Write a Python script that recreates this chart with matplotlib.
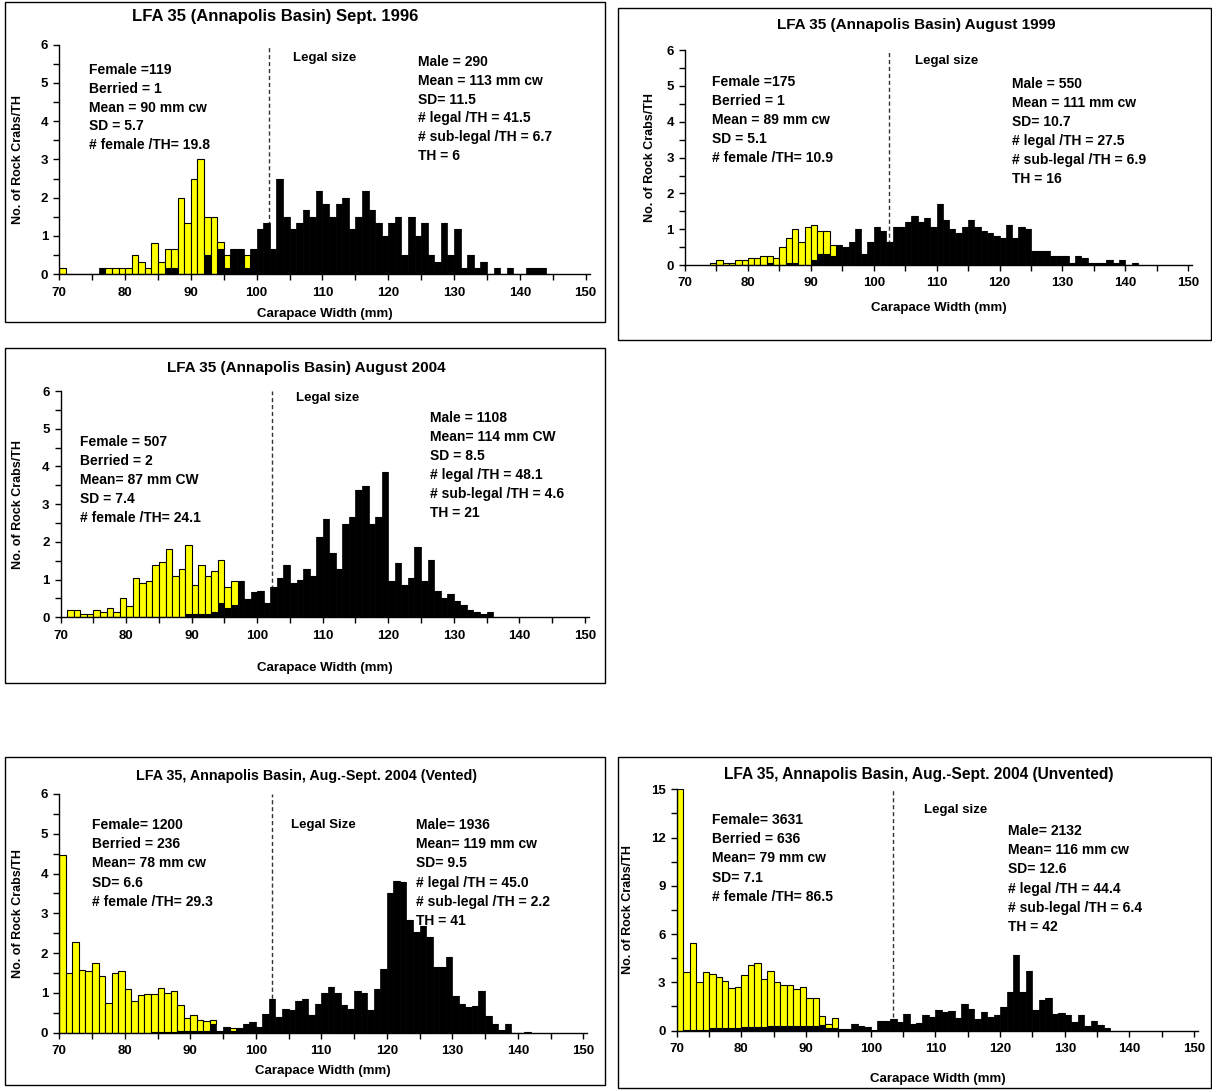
import numpy as np
import matplotlib
matplotlib.use('Agg')
import matplotlib.pyplot as plt
from matplotlib.patches import Rectangle

plt.rcParams['font.family'] = ['Liberation Sans', 'DejaVu Sans']
plt.rcParams['font.weight'] = 'bold'

# Carapace width classes (mm) and crabs per trap haul, female on top of male
cw_1996 = np.arange(70, 144)
female_1996 = [0.17, 0, 0, 0, 0, 0, 0, 0.17, 0.17, 0.17,
               0.17, 0.5, 0.33, 0.17, 0.83, 0.33, 0.5, 0.5, 2.0, 1.33,
               2.5, 3.0, 1.0, 1.5, 0.17, 0.33, 0, 0, 0.33, 0,
               0, 0, 0, 0, 0, 0, 0, 0, 0, 0,
               0, 0, 0, 0, 0, 0, 0, 0, 0, 0,
               0, 0, 0, 0, 0, 0, 0, 0, 0, 0,
               0, 0, 0, 0, 0, 0, 0, 0, 0, 0,
               0, 0, 0, 0]
male_1996 = [0, 0, 0, 0, 0, 0, 0.17, 0, 0, 0,
             0, 0, 0, 0, 0, 0, 0.17, 0.17, 0, 0,
             0, 0, 0.5, 0, 0.67, 0.17, 0.67, 0.67, 0.17, 0.67,
             1.17, 1.33, 0.67, 2.5, 1.5, 1.17, 1.33, 1.67, 1.5, 2.17,
             1.83, 1.5, 1.83, 2.0, 1.17, 1.5, 2.17, 1.67, 1.33, 1.0,
             1.33, 1.5, 0.5, 1.5, 1.0, 1.33, 0.5, 0.33, 1.33, 0.5,
             1.17, 0.17, 0.5, 0.17, 0.33, 0, 0.17, 0, 0.17, 0,
             0, 0.17, 0.17, 0.17]

cw_1999 = np.arange(74, 142)
female_1999 = [0.06, 0.13, 0.06, 0.06, 0.13, 0.13, 0.19, 0.19, 0.25, 0.19,
               0.19, 0.5, 0.69, 0.94, 0.63, 1.06, 1.0, 0.63, 0.63, 0.31,
               0, 0, 0, 0, 0, 0, 0, 0, 0, 0,
               0, 0, 0, 0, 0, 0, 0, 0, 0, 0,
               0, 0, 0, 0, 0, 0, 0, 0, 0, 0,
               0, 0, 0, 0, 0, 0, 0, 0, 0, 0,
               0, 0, 0, 0, 0, 0, 0, 0]
male_1999 = [0, 0, 0, 0, 0, 0, 0, 0, 0, 0.06,
             0, 0, 0.06, 0.06, 0, 0, 0.13, 0.31, 0.31, 0.25,
             0.56, 0.5, 0.63, 1.0, 0.31, 0.63, 1.06, 0.94, 0.63, 1.06,
             1.06, 1.19, 1.38, 1.19, 1.31, 1.06, 1.69, 1.25, 1.0, 0.88,
             1.06, 1.25, 1.06, 0.94, 0.88, 0.81, 0.75, 1.13, 0.75, 1.06,
             1.0, 0.38, 0.38, 0.38, 0.25, 0.25, 0.25, 0.06, 0.25, 0.19,
             0.06, 0.06, 0.06, 0.13, 0.06, 0.13, 0, 0.06]

cw_2004 = np.arange(71, 136)
female_2004 = [0.19, 0.19, 0.1, 0.1, 0.19, 0.14, 0.24, 0.14, 0.52,
               0.29, 1.05, 0.9, 0.95, 1.38, 1.48, 1.81, 1.1, 1.29, 1.81,
               0.76, 1.29, 1.0, 1.1, 1.14, 0.57, 0.62, 0, 0, 0,
               0, 0, 0, 0, 0, 0, 0, 0, 0, 0,
               0, 0, 0, 0, 0, 0, 0, 0, 0, 0,
               0, 0, 0, 0, 0, 0, 0, 0, 0, 0,
               0, 0, 0, 0, 0, 0]
male_2004 = [0, 0, 0, 0, 0, 0, 0, 0, 0,
             0, 0, 0, 0, 0, 0, 0, 0, 0, 0.1,
             0.1, 0.1, 0.1, 0.14, 0.38, 0.24, 0.33, 0.95, 0.48, 0.67,
             0.71, 0.38, 0.81, 1.05, 1.38, 0.9, 1.0, 1.29, 1.1, 2.14,
             2.62, 1.71, 1.29, 2.48, 2.67, 3.38, 3.48, 2.48, 2.67, 3.86,
             0.95, 1.43, 0.86, 1.05, 1.86, 0.95, 1.52, 0.71, 0.52, 0.62,
             0.43, 0.33, 0.19, 0.14, 0.1, 0.14]

cw_vented = np.arange(70, 142)
female_vented = [4.46, 1.49, 2.27, 1.58, 1.54, 1.76, 1.43, 0.74, 1.49, 1.54,
                 1.1, 0.8, 0.95, 0.98, 0.95, 1.09, 0.97, 1.01, 0.65, 0.31,
                 0.39, 0.26, 0.25, 0.08, 0, 0, 0.07, 0, 0, 0,
                 0, 0, 0, 0, 0, 0, 0, 0, 0, 0,
                 0, 0, 0, 0, 0, 0, 0, 0, 0, 0,
                 0, 0, 0, 0, 0, 0, 0, 0, 0, 0,
                 0, 0, 0, 0, 0, 0, 0, 0, 0, 0,
                 0, 0]
male_vented = [0, 0, 0, 0, 0, 0, 0, 0, 0, 0,
               0, 0, 0, 0, 0.03, 0.03, 0.03, 0.03, 0.05, 0.05,
               0.05, 0.05, 0.05, 0.23, 0.05, 0.15, 0.05, 0.12, 0.21, 0.27,
               0.14, 0.47, 0.84, 0.39, 0.6, 0.57, 0.8, 0.84, 0.44, 0.72,
               0.99, 1.14, 0.99, 0.69, 0.6, 1.05, 0.99, 0.57, 1.11, 1.61,
               3.5, 3.81, 3.78, 2.83, 2.54, 2.67, 2.41, 1.66, 1.66, 1.89,
               0.93, 0.71, 0.64, 0.67, 1.05, 0.42, 0.21, 0.08, 0.21, 0,
               0, 0.03]

cw_unvented = np.arange(70, 137)
female_unvented = [15.0, 3.56, 5.39, 2.94, 3.56, 3.38, 3.16, 2.93, 2.47, 2.56,
                   3.25, 3.85, 3.99, 3.02, 3.43, 2.75, 2.6, 2.6, 2.26, 2.41,
                   1.75, 1.75, 0.56, 0.27, 0.63, 0, 0, 0, 0, 0,
                   0, 0, 0, 0, 0, 0, 0, 0, 0, 0,
                   0, 0, 0, 0, 0, 0, 0, 0, 0, 0,
                   0, 0, 0, 0, 0, 0, 0, 0, 0, 0,
                   0, 0, 0, 0, 0, 0, 0]
male_unvented = [0, 0.06, 0.06, 0.06, 0.06, 0.15, 0.15, 0.15, 0.15, 0.15,
                 0.2, 0.2, 0.2, 0.2, 0.25, 0.25, 0.25, 0.25, 0.3, 0.3,
                 0.3, 0.3, 0.37, 0.15, 0.15, 0.12, 0.08, 0.4, 0.3, 0.2,
                 0.06, 0.56, 0.62, 0.7, 0.54, 1.0, 0.43, 0.45, 0.95, 0.87,
                 1.28, 1.18, 1.24, 0.79, 1.65, 1.32, 0.7, 1.12, 0.83, 0.99,
                 1.49, 2.4, 4.69, 2.38, 3.72, 1.28, 1.9, 2.0, 1.03, 1.07,
                 0.95, 0.54, 0.95, 0.25, 0.56, 0.35, 0.15]

legal_size = [101.9, 102.5, 102.3, 102.5, 103.5]

titles = ["LFA 35 (Annapolis Basin) Sept. 1996",
          "LFA 35 (Annapolis Basin) August 1999",
          "LFA 35 (Annapolis Basin) August 2004",
          "LFA 35, Annapolis Basin, Aug.-Sept. 2004 (Vented)",
          "LFA 35, Annapolis Basin, Aug.-Sept. 2004 (Unvented)"]
legal_labels = ["Legal size", "Legal size", "Legal size", "Legal Size", "Legal size"]

female_notes = [
    ["Female =119", "Berried = 1", "Mean = 90 mm cw", "SD = 5.7", "# female /TH= 19.8"],
    ["Female =175", "Berried = 1", "Mean = 89 mm cw", "SD = 5.1", "# female /TH= 10.9"],
    ["Female = 507", "Berried = 2", "Mean= 87 mm CW", "SD = 7.4", "# female /TH= 24.1"],
    ["Female= 1200", "Berried = 236", "Mean= 78 mm cw", "SD= 6.6", "# female /TH= 29.3"],
    ["Female= 3631", "Berried = 636", "Mean= 79 mm cw", "SD= 7.1", "# female /TH= 86.5"],
]
male_notes = [
    ["Male = 290", "Mean = 113 mm cw", "SD= 11.5", "# legal /TH = 41.5", "# sub-legal /TH = 6.7", "TH = 6"],
    ["Male = 550", "Mean = 111 mm cw", "SD= 10.7", "# legal /TH = 27.5", "# sub-legal /TH = 6.9", "TH = 16"],
    ["Male = 1108", "Mean= 114 mm CW", "SD = 8.5", "# legal /TH = 48.1", "# sub-legal /TH = 4.6", "TH = 21"],
    ["Male= 1936", "Mean= 119 mm cw", "SD= 9.5", "# legal /TH = 45.0", "# sub-legal /TH = 2.2", "TH = 41"],
    ["Male= 2132", "Mean= 116 mm cw", "SD= 12.6", "# legal /TH = 44.4", "# sub-legal /TH = 6.4", "TH = 42"],
]

W, H = 1212, 1090
fig = plt.figure(figsize=(W / 100, H / 100), dpi=100)


def fx(x):
    return x / W


def fy(y):
    return 1 - y / H


# layout in pixels: frame box, plot box, y range, text anchors
layout = [
    dict(frame=(5, 2, 605, 322), box=(59.3, 44.5, 589.6, 274.3), ymax=6, ystep=1, tsize=12,
         title=(275, 16), legal=(325, 58), fem=(89, 70), mal=(418, 62), ylab=18, xlab=314, gap=18.8),
    dict(frame=(618, 8, 1211, 340), box=(685, 50.2, 1192, 265), ymax=6, ystep=1, tsize=11,
         title=(916, 25), legal=(947, 61), fem=(712, 82), mal=(1012, 84), ylab=650, xlab=308, gap=19),
    dict(frame=(5, 348, 605, 683), box=(60.7, 391.1, 588.7, 617.3), ymax=6, ystep=1, tsize=11,
         title=(306, 368), legal=(328, 398), fem=(80, 442), mal=(430, 418), ylab=18, xlab=668, gap=19),
    dict(frame=(5, 757, 605, 1085), box=(59.3, 793.9, 587.2, 1032.7), ymax=6, ystep=1, tsize=10.3,
         title=(306, 776), legal=(323, 825), fem=(92, 825), mal=(416, 825), ylab=18, xlab=1071, gap=19.2),
    dict(frame=(618, 757, 1211, 1088), box=(676.7, 789.3, 1198, 1030.5), ymax=15, ystep=3, tsize=11.2,
         title=(919, 775), legal=(956, 810), fem=(712, 820), mal=(1008, 831), ylab=628, xlab=1079, gap=19.2),
]

series = [(cw_1996, female_1996, male_1996),
          (cw_1999, female_1999, male_1999),
          (cw_2004, female_2004, male_2004),
          (cw_vented, female_vented, male_vented),
          (cw_unvented, female_unvented, male_unvented)]

for i, (cw, fem, mal) in enumerate(series):
    lay = layout[i]
    x0, y0, x1, y1 = lay['frame']
    fig.add_artist(Rectangle((fx(x0), fy(y1)), (x1 - x0) / W, (y1 - y0) / H,
                             transform=fig.transFigure, fill=False, ec='black', lw=1))

    l, t, r, b = lay['box']
    ax = fig.add_axes([fx(l), fy(b), (r - l) / W, (b - t) / H])
    ax.bar(cw, mal, width=1, align='edge', color='black', edgecolor='black', linewidth=0.5, zorder=2)
    ax.bar(cw, fem, bottom=mal, width=1, align='edge', color='#ffff00', edgecolor='black',
           linewidth=0.8, zorder=2)
    ax.axvline(legal_size[i], color='#333333', ls=(0, (3, 2)), lw=1, zorder=1)

    ax.set_xlim(70, 150.6)
    ax.set_ylim(0, lay['ymax'])
    ax.set_xticks(range(70, 151, 10))
    ax.set_xticks(range(75, 150, 10), minor=True)
    ax.set_yticks(range(0, lay['ymax'] + 1, lay['ystep']))
    ax.set_yticks(np.arange(lay['ystep'] / 2, lay['ymax'], lay['ystep']), minor=True)
    ax.tick_params(which='both', direction='out', length=4, width=1, labelsize=9.5)
    ax.tick_params(axis='x', pad=5)
    ax.tick_params(axis='y', pad=4)
    for s in ['top', 'right']:
        ax.spines[s].set_visible(False)
    for s in ['left', 'bottom']:
        ax.spines[s].set_linewidth(1)

    fig.text(fx(lay['title'][0]), fy(lay['title'][1]), titles[i], ha='center', va='center',
             fontsize=lay['tsize'])
    fig.text(fx(lay['legal'][0]), fy(lay['legal'][1]), legal_labels[i], ha='center', va='center', fontsize=9.5)
    fig.text(fx(lay['ylab']), fy((t + b) / 2), "No. of Rock Crabs/TH", rotation=90,
             ha='center', va='center', fontsize=9)
    fig.text(fx((l + r) / 2), fy(lay['xlab']), "Carapace Width (mm)", ha='center', va='center', fontsize=9.5)

    for k, line in enumerate(female_notes[i]):
        fig.text(fx(lay['fem'][0]), fy(lay['fem'][1] + k * lay['gap']), line,
                 ha='left', va='center', fontsize=10)
    for k, line in enumerate(male_notes[i]):
        fig.text(fx(lay['mal'][0]), fy(lay['mal'][1] + k * lay['gap']), line,
                 ha='left', va='center', fontsize=10)

fig.savefig('out.png', dpi=100)
